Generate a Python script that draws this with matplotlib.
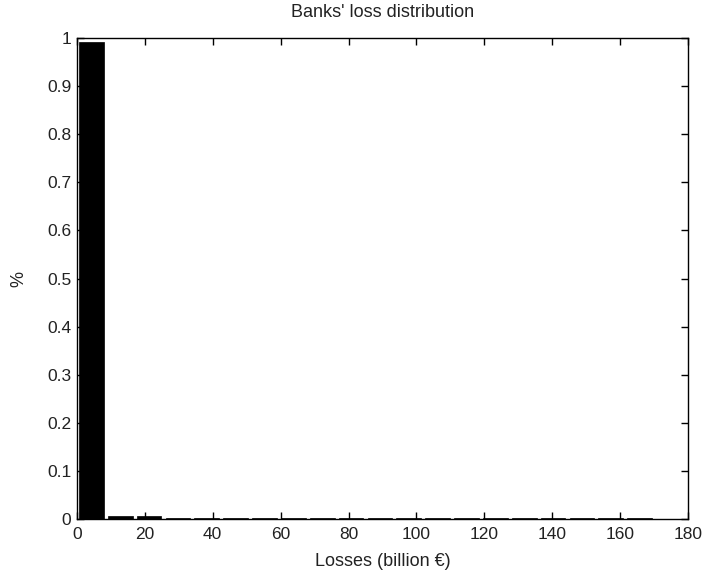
import matplotlib
matplotlib.use("Agg")
import matplotlib.pyplot as plt
import numpy as np

# histogram of simulated bank losses (20 bins over 0-170 bn EUR)
bin_width = 8.5
bin_centers = [4.25 + bin_width * i for i in range(20)]
loss_share = [0.992, 0.0065, 0.0055, 0.0022, 0.0022, 0.0020, 0.0020, 0.0020,
              0.0020, 0.0020, 0.0020, 0.0020, 0.0020, 0.0020, 0.0020, 0.0020,
              0.0020, 0.0020, 0.0020, 0.0020]

x_ticks = list(range(0, 181, 20))
y_ticks = [0, 0.1, 0.2, 0.3, 0.4, 0.5, 0.6, 0.7, 0.8, 0.9, 1]
y_tick_labels = ["0", "0.1", "0.2", "0.3", "0.4", "0.5", "0.6", "0.7", "0.8", "0.9", "1"]

plt.rcParams["font.family"] = ["Liberation Sans", "DejaVu Sans"]

fig = plt.figure(figsize=(7.06, 5.77), dpi=100)
ax = fig.add_axes([0.109, 0.1005, 0.8655, 0.8335])

ax.bar(bin_centers, loss_share, width=bin_width * 0.86, color="black",
       edgecolor="black", linewidth=0.5)

ax.set_xlim(0, 180)
ax.set_ylim(0, 1)
ax.set_xticks(x_ticks)
ax.set_yticks(y_ticks)
ax.set_yticklabels(y_tick_labels)
ax.tick_params(direction="in", length=5, width=1, top=True, right=True,
               labelsize=12.5, labelcolor="#222222", pad=4)
ax.tick_params(axis="x", pad=6)
for side in ax.spines.values():
    side.set_linewidth(1)

ax.set_title("Banks' loss distribution", fontsize=13, pad=15, color="#222222")
ax.set_xlabel("Losses (billion \u20ac)", fontsize=13, labelpad=8, color="#222222")
ax.set_ylabel("%", fontsize=13, labelpad=14, color="#222222")

fig.savefig("out.png", dpi=100)
